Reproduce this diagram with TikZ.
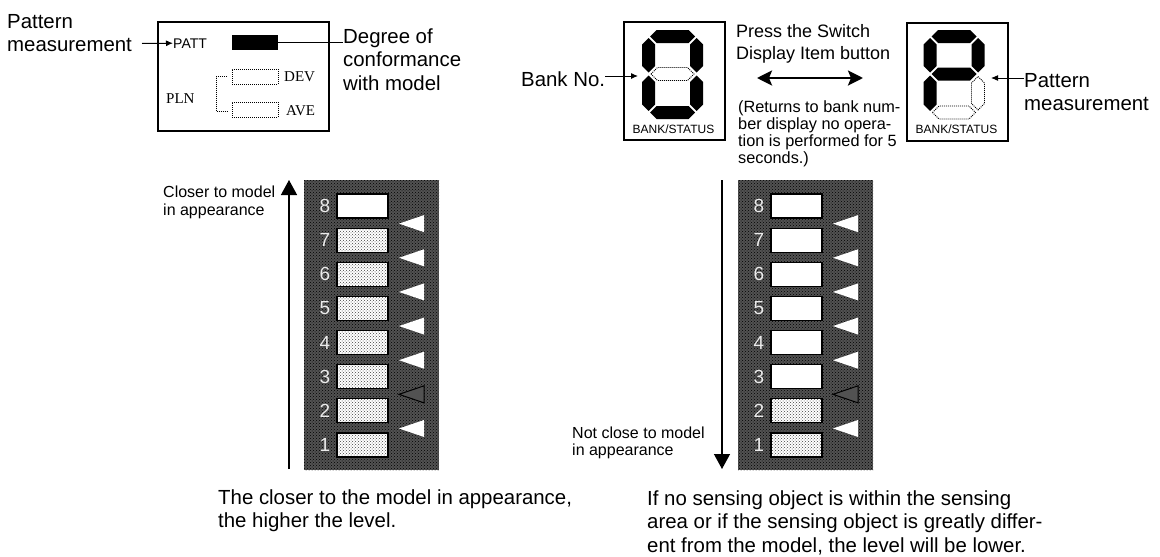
\documentclass[tikz,border=0pt]{standalone}
\usepackage{fontspec}
\setmainfont{Liberation Sans}
\newfontfamily\serifont{Liberation Serif}
\usetikzlibrary{arrows.meta,patterns}
\newcommand\sevH[4]{\draw[#4] (#1,#3) -- ({#1+6.5},{#3-6.5}) -- ({#2-6.5},{#3-6.5}) -- (#2,#3) -- ({#2-6.5},{#3+6.5}) -- ({#1+6.5},{#3+6.5}) -- cycle;}
\newcommand\sevV[4]{\draw[#4] (#1,#2) -- ({#1+6.5},{#2+6.5}) -- ({#1+6.5},{#3-6.5}) -- (#1,#3) -- ({#1-6.5},{#3-6.5}) -- ({#1-6.5},{#2+6.5}) -- cycle;}
\begin{document}
\begin{tikzpicture}[x=1pt,y=-1pt,
  lab/.style={font=\fontsize{20.4}{23.8}\selectfont, align=left, inner sep=0pt, anchor=base west},
  midtext/.style={font=\fontsize{18}{22}\selectfont, align=left, inner sep=0pt, anchor=base west},
  smalltext/.style={font=\fontsize{16.3}{17.2}\selectfont, align=left, inner sep=0pt, anchor=base west},
  thinarr/.style={-{Latex[length=7pt,width=6pt]}, line width=1pt},
  bigarr/.style={-{Triangle[length=15pt,width=16pt]}, line width=1.3pt},
  dblarr/.style={{Stealth[length=15pt,width=15pt,inset=3pt]}-{Stealth[length=15pt,width=15pt,inset=3pt]}, line width=2.6pt},
  dots/.style={dash pattern=on 1pt off 1pt, line width=0.8pt},
  segon/.style={fill=black, draw=none},
  segoff/.style={dots, draw=black, fill=white},
  dispbox/.style={draw, line width=2pt, minimum width=101pt, minimum height=118pt, inner sep=0pt},
  panelbg/.style={preaction={fill=black!68}, pattern=crosshatch dots, pattern color=black},
  lvwhite/.style={draw, line width=1.2pt, fill=white, minimum width=51pt, minimum height=24pt, inner sep=0pt},
  lvdot/.style={draw, line width=1.2pt, preaction={fill=white}, pattern=crosshatch dots, pattern color=black!75, minimum width=51pt, minimum height=24pt, inner sep=0pt},
  numtxt/.style={font=\fontsize{19}{19}\selectfont, text=white!92!black, inner sep=0pt},
]
\useasboundingbox (0,0) rectangle (1160,557);
\fill[white] (0,0) rectangle (1160,557);

% ---------- top-left monitor ----------
\node[draw, line width=1.5pt, minimum width=171pt, minimum height=109pt, inner sep=0pt] (mon) at (243.5,76.5) {};
\node[font=\fontsize{14}{14}\selectfont, inner sep=0pt, anchor=base west] (patt) at (173,48) {PATT};
\node[fill=black, minimum width=46pt, minimum height=15pt, inner sep=0pt] (br) at (255,42.5) {};
\node[draw, dots, minimum width=46pt, minimum height=15pt, inner sep=0pt] (devbox) at (255,76.5) {};
\node[draw, dots, minimum width=46pt, minimum height=15pt, inner sep=0pt] (avebox) at (255,109.5) {};
\node[font=\serifont\fontsize{15}{15}\selectfont, inner sep=0pt, anchor=base west] (pln) at (166,103) {PLN};
\node[font=\serifont\fontsize{15}{15}\selectfont, inner sep=0pt, anchor=base west] (dev) at (284,81) {DEV};
\node[font=\serifont\fontsize{15}{15}\selectfont, inner sep=0pt, anchor=base west] (ave) at (286,115) {AVE};
\coordinate (brkA) at (227,76.5);
\coordinate (brkB) at (227,111);
\draw[dots] (brkA) -- ++(-11,0) |- (brkB);

% multi-line nodes: base anchor = baseline of the last line
\node[lab] (pmL) at (7,51.8) {Pattern\\measurement};
\coordinate (pmLstart) at (142,43.5);
\draw[thinarr] (pmLstart) -- (patt.west);
\node[lab] (deg) at (343,90.6) {Degree of\\conformance\\with model};
\draw[line width=1pt] (br.east) -- (br.east -| deg.west);

% ---------- seven-segment displays ----------
\node[dispbox] (d1) at (674.5,81) {};
\node[dispbox] (d2) at (957,81.5) {};
\node[font=\fontsize{12}{12}\selectfont, inner sep=0pt, anchor=base] (bs1) at (673.5,133) {BANK/STATUS};
\node[font=\fontsize{12}{12}\selectfont, inner sep=0pt, anchor=base] (bs2) at (956.5,133.5) {BANK/STATUS};
% left digit: 8 with middle segment dotted
\sevH{650}{695}{36.5}{segon}
\sevV{648.5}{38}{72.5}{segon}
\sevV{696.5}{38}{72.5}{segon}
\sevH{651}{694}{74}{segoff}
\sevV{648.5}{75.5}{111}{segon}
\sevV{696.5}{75.5}{111}{segon}
\sevH{650}{695}{112.5}{segon}
% right digit: P with lower-right and bottom dotted
\sevH{931.5}{976.5}{36.5}{segon}
\sevV{930}{38}{72.5}{segon}
\sevV{978}{38}{72.5}{segon}
\sevH{931.5}{976.5}{74}{segon}
\sevV{930}{75.5}{111}{segon}
\sevV{978}{76.5}{110}{segoff}
\sevH{932.5}{975.5}{112.5}{segoff}

\node[lab] (bank) at (521,86) {Bank No.};
\coordinate (bankTip) at (638,76);
\draw[thinarr] (bank.east |- bankTip) -- (bankTip);
\node[lab] (pmR) at (1024,110.8) {Pattern\\measurement};
\coordinate (pmTip) at (991,78);
\draw[thinarr] (pmR.west |- pmTip) -- (pmTip);

\node[midtext] (press) at (736,59) {Press the Switch\\Display Item button};
\coordinate (dblL) at (757,78);
\coordinate (dblR) at (863,78);
\draw[dblarr] (dblL) -- (dblR);
\node[smalltext] (ret) at (738,163.6) {(Returns to bank num-\\ber display no opera-\\tion is performed for 5\\seconds.)};

% ---------- left level panel ----------
\fill[panelbg] (304,180) rectangle (439,470);
\node[lvwhite] (La8) at (362.5,206) {};
\foreach \i in {1,...,7} {
  \node[lvdot] (La\i) at (362.5,{194+(8-\i)*34.14+12}) {};
}
\foreach \i in {1,...,8} {
  \node[numtxt] (Na\i) at (325,{194+(8-\i)*34.14+12}) {\i};
}
\foreach \k in {1,3,4,5,6,7} {
  \pgfmathsetmacro\yc{194+(8-\k)*34.14-4.5}
  \fill[white] (399,\yc) -- (424,{\yc-8.5}) -- (424,{\yc+8.5}) -- cycle;
}
\pgfmathsetmacro\yc{194+6*34.14-4.5}
\draw[line width=1pt, fill=black!68] (399,\yc) -- (424,{\yc-8.5}) -- (424,{\yc+8.5}) -- cycle;

% ---------- right level panel ----------
\fill[panelbg] (738,180) rectangle (873,470);
\foreach \i in {3,...,8} {
  \node[lvwhite] (Lb\i) at (796.5,{194+(8-\i)*34.14+12}) {};
}
\foreach \i in {1,2} {
  \node[lvdot] (Lb\i) at (796.5,{194+(8-\i)*34.14+12}) {};
}
\foreach \i in {1,...,8} {
  \node[numtxt] (Nb\i) at (759,{194+(8-\i)*34.14+12}) {\i};
}
\foreach \k in {1,3,4,5,6,7} {
  \pgfmathsetmacro\yc{194+(8-\k)*34.14-4.5}
  \fill[white] (833,\yc) -- (858,{\yc-8.5}) -- (858,{\yc+8.5}) -- cycle;
}
\pgfmathsetmacro\yc{194+6*34.14-4.5}
\draw[line width=1pt, fill=black!68] (833,\yc) -- (858,{\yc-8.5}) -- (858,{\yc+8.5}) -- cycle;

% ---------- axis arrows ----------
\coordinate (upA) at (289,469);
\coordinate (upB) at (289,180);
\draw[bigarr] (upA) -- (upB);
\node[smalltext, font=\fontsize{16}{18}\selectfont] (closer) at (163,215) {Closer to model\\in appearance};
\coordinate (dnA) at (722,180);
\coordinate (dnB) at (722,469);
\draw[bigarr] (dnA) -- (dnB);
\node[smalltext, font=\fontsize{16}{17}\selectfont] (notclose) at (572,455) {Not close to model\\in appearance};

% ---------- bottom captions ----------
\node[lab] (capL) at (218,527.8) {The closer to the model in appearance,\\the higher the level.};
\node[lab] (capR) at (647,552.6) {If no sensing object is within the sensing\\area or if the sensing object is greatly differ-\\ent from the model, the level will be lower.};
\end{tikzpicture}
\end{document}
